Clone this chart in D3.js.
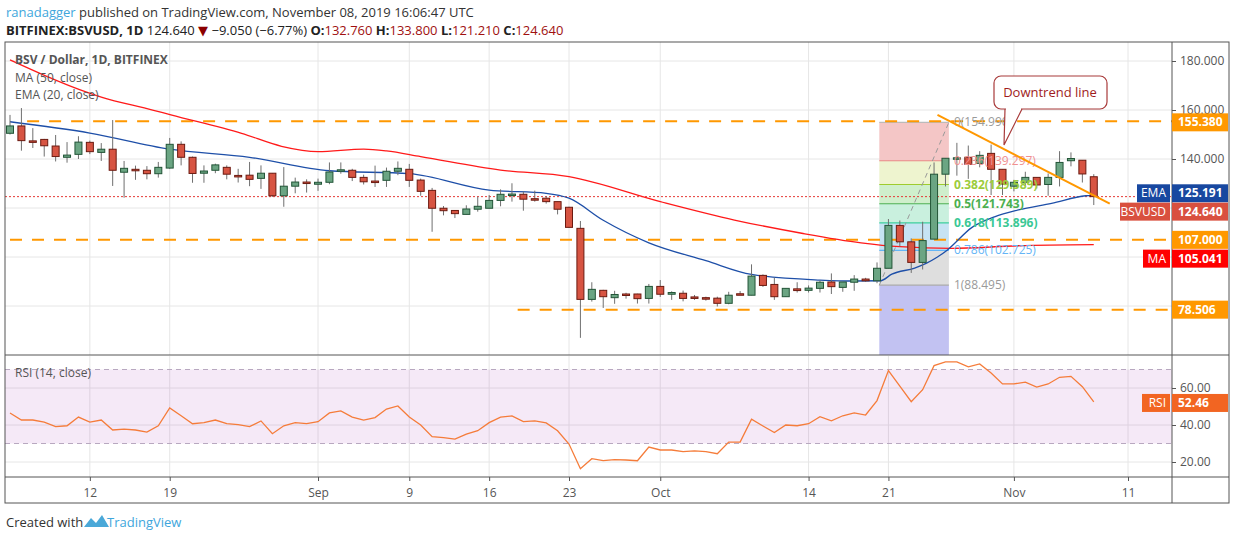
<!DOCTYPE html>
<html>
<head>
<meta charset="utf-8">
<script src="https://cdn.jsdelivr.net/npm/d3@7"></script>
<style>
  body { margin: 0; background: #fff; font-family: "Open Sans", "DejaVu Sans", sans-serif; }
  svg text { font-family: "Open Sans", "DejaVu Sans", sans-serif; }
</style>
</head>
<body>
<svg id="chart" width="1234" height="540"></svg>
<script>
// daily candles from Aug 05 2019 to Nov 08 2019
const startDate = `2019-08-05`;
const opens  = [150.5,153.5,147.4,148,145.3,140.7,141.9,146.8,142.7,144,134.6,135.8,135.4,134,136.3,146,140.7,134.2,135.4,136.6,133.3,133.4,132.1,134.2,125,128.9,130.6,129.7,130.5,135,135.4,132.5,131,131.3,135,135.8,131.4,127.2,119.9,119,117.4,119.5,119.9,123.1,125.5,125.6,123.8,124,122.6,120.3,111.7,82.7,86.4,83.4,84.9,84.9,83.1,88,84.8,85.2,83.7,83.4,83.2,81.1,85,84.4,92.5,88.8,83.8,87,86.4,87.2,89.8,87.6,89.7,91,90.3,95.4,112.9,106.2,97.8,107.3,133.8,140,140.7,138.2,142.3,135.8,128.9,130.5,132.5,129.6,132.5,139.3,139.5,132.76];
const highs  = [158,160.8,152.6,148.2,149.8,146.9,149.3,147.5,146.5,155.9,139.2,137.3,137.1,138.8,148.6,147.2,141,137.4,138.1,137.4,136,138.8,137.4,134.2,136.7,132.4,131.7,132,138.6,138.6,136,133.6,137.3,136.5,139,138,132,128.2,120.8,119.1,121.1,124.6,125.3,127.6,130.1,126.7,127.1,124.8,122.6,120.5,114.7,89.7,86.6,86.2,85.4,85,89,90.6,86,86.3,84.5,83.8,83.8,85.8,86.1,97,92.9,91.6,87.2,89.7,88.4,90.4,93.3,89.8,92.6,91.5,97.8,115.5,114.9,107.6,114.4,138.6,140.3,146.6,145.5,143.2,145.9,135.8,131.5,134.8,132.5,134.1,143.2,142.7,139.5,133.8];
const lows   = [150,143.4,144.5,141,139,138.5,140,142,139.2,129,124.2,131.5,131.7,132.4,136,137.4,130.3,130.3,134.2,131.7,130.4,128.9,127.8,124.6,120.5,126,126.3,127,129.7,134,131,129.6,128.6,128.6,133.4,128.6,125,110.3,117,115.9,117.4,118.5,119.9,120.7,122.6,118.9,122.6,121.8,117.4,112,67,81.8,79.2,80.9,83,81,81,83.7,82.5,81.9,82.5,82.2,79.8,80.7,84.5,84.4,87.8,82.5,83.8,85.5,85.5,85.5,84.9,85.8,86.2,89.8,89.3,95.4,104.2,93.5,94.9,107.3,128.8,133.2,131.9,136.6,125.3,125.3,126.8,129,128,125,128.8,137,130.4,121.21];
const closes = [153.5,147.5,147,145.4,141,141.6,146.9,143,144,135.4,136.2,135.4,134,136.6,146,140.7,134.1,135.1,137.6,133.8,132.9,131.7,134.2,125,128.9,130.6,130,130.5,134.7,135.6,132.5,130.7,130.8,135,136.2,131.3,126.8,119.9,118.9,117.7,119.6,120.7,123.1,125.6,125.7,123.6,123.5,122.6,119.5,112.1,82.7,86.8,83.8,84.7,84.5,83,88,84.8,85.5,83.1,83.6,82.8,81.1,84.4,84.5,92.2,88.4,83.8,87.2,86.3,87.3,89.7,87.9,89.8,91,90.3,95.4,112.9,106.2,97.8,106.7,133.8,140.3,140.5,137.8,141.5,135.8,129.8,130.5,132.5,129.4,132.5,138.6,140.2,133.9,124.64];

// moving averages (day index from Aug 05, value)
const maDays = [0,8,12.5,14.1,20.3,23.8,27,31,33,36,43,49,57,63.5,69.4,74.6,78,82.5,88.4,95];
const maVals = [180.5,165.3,160,158,150.5,145.2,143,144,143.3,141,135.5,132.8,122.6,115.1,109.7,105.8,104.2,103.5,104.6,105.04];
const emaDays = [0,7,14,21,28,35,42,47,49,52,56,61,65,71,74,76.3,77.3,79.3,80.3,81.3,82.2,84.3,86.3,88.4,91.3,94.3,95];
const emaVals = [155.2,150.6,144,140.7,135.2,134,127.3,126,124,115,105.8,98.5,92.9,90.6,90.2,90.3,93,95.5,97.4,100,103,112,116.4,119.2,121.9,125,125.191];

// RSI (14) one value per day
const rsiVals = [46.5,42.7,42.7,41.6,39.1,39.6,44.3,41.6,42.7,37.3,37.8,37.3,36.2,39.6,49.2,45,40.7,41.3,42.7,40.7,40.2,39.1,42.2,35.3,39.6,41.3,40.7,41.8,46.5,47.6,44.3,42.7,44,48.6,50.3,44.3,40,33.7,33.2,32.4,35.1,36.9,41.3,44.3,44.9,41.8,42.2,41.1,36.9,29.7,16.4,21.8,20.7,21.3,21.1,20.7,28.1,26.5,26.5,25.6,26,25.6,24.5,30.8,30.8,43.2,39.5,35.9,40,39.6,40.7,44.5,42.3,45,46.5,45.4,53.2,69.4,61,52.6,59.1,72.1,74.1,74.1,71.4,73,68.1,62.2,62.2,63.2,60.5,62.2,65.8,66.3,60.7,52.46];

const tickDates = [`2019-08-12`,`2019-08-19`,`2019-09-01`,`2019-09-09`,`2019-09-16`,`2019-09-23`,`2019-10-01`,`2019-10-14`,`2019-10-21`,`2019-11-01`,`2019-11-11`];
const tickLabels = [`12`,`19`,`Sep`,`9`,`16`,`23`,`Oct`,`14`,`21`,`Nov`,`11`];
const priceTicks = [80,100,120,140,160,180];
const priceLabels = [140,160,180];
const rsiTicks = [20,40,60];

const hLevels = [155.38, 107.0, 78.506];
const hLevelStart = [1.5, 0, 44.5];
const fibRatios = [0,0.236,0.382,0.5,0.618,0.786,1];
const fibPrices = [154.99,139.297,129.589,121.743,113.896,102.725,88.495];
const fibFills = [`#f4c6c6`,`#eef4cf`,`#cfefcc`,`#c9f0de`,`#c6e3f3`,`#dedede`];
const fibLines = [`#bbbbbb`,`#e98585`,`#9fcc2e`,`#4caf50`,`#3ccf9e`,`#64b5f6`,`#aaaaaa`];
const fibText  = [`#9a9a9a`,`#f09090`,`#9ccc3c`,`#4caf50`,`#3bc895`,`#64b5f6`,`#9a9a9a`];
const trendDays = [81.3, 96.4];
const trendVals = [158, 121.8];

const svg = d3.select(`#chart`);
const parse = d3.utcParse(`%Y-%m-%d`);
const d0 = parse(startDate);
const dayDate = i => d0.getTime() + i * 864e5;

const left = 5, right = 1172, axisRight = 1229;
const mainTop = 42, mainBottom = 355, rsiTop = 356, rsiBottom = 477, timeBottom = 503;

const x = d3.scaleUtc().domain([d0, parse(`2019-11-11`)]).range([10, 1128]);
const xd = i => x(new Date(dayDate(i)));
const y = d3.scaleLinear().domain([60, 187.76]).range([mainBottom, mainTop]);
const yr = d3.scaleLinear().domain([11.9, 77.3]).range([rsiBottom, rsiTop]);

// header
const head = svg.append(`text`).attr(`x`, 6).attr(`y`, 17).attr(`font-size`, 13).attr(`fill`, `#333`);
head.append(`tspan`).attr(`fill`, `#3ea6dc`).text(`ranadagger`);
head.append(`tspan`).text(` published on TradingView.com, November 08, 2019 16:06:47 UTC`);
const h2 = svg.append(`text`).attr(`x`, 6).attr(`y`, 35).attr(`font-size`, 13).attr(`fill`, `#222`);
h2.append(`tspan`).attr(`font-weight`, `bold`).text(`BITFINEX:BSVUSD, 1D`);
h2.append(`tspan`).text(`  124.640 `);
h2.append(`tspan`).attr(`fill`, `#8b0000`).text(`▼`);
h2.append(`tspan`).text(` −9.050 (−6.77%) `);
[[`O:`,`132.760`],[`H:`,`133.800`],[`L:`,`121.210`],[`C:`,`124.640`]].forEach(([k, v]) => {
  h2.append(`tspan`).attr(`font-weight`, `bold`).text(k);
  h2.append(`tspan`).attr(`fill`, `#a01010`).text(v + ` `);
});

// grid
const grid = svg.append(`g`).attr(`stroke`, `#e6e6e6`);
tickDates.forEach(d => {
  const gx = x(parse(d));
  grid.append(`line`).attr(`x1`, gx).attr(`x2`, gx).attr(`y1`, mainTop).attr(`y2`, mainBottom);
  grid.append(`line`).attr(`x1`, gx).attr(`x2`, gx).attr(`y1`, rsiTop).attr(`y2`, rsiBottom);
});
priceTicks.forEach(p => grid.append(`line`).attr(`x1`, left).attr(`x2`, right).attr(`y1`, y(p)).attr(`y2`, y(p)));
rsiTicks.forEach(r => grid.append(`line`).attr(`x1`, left).attr(`x2`, right).attr(`y1`, yr(r)).attr(`y2`, yr(r)));

// fib retracement
const fibX0 = xd(76.2), fibX1 = xd(82.3);
const fib = svg.append(`g`);
for (let i = 0; i < 6; i++) {
  fib.append(`rect`).attr(`x`, fibX0).attr(`width`, fibX1 - fibX0)
    .attr(`y`, y(fibPrices[i])).attr(`height`, y(fibPrices[i + 1]) - y(fibPrices[i]))
    .attr(`fill`, fibFills[i]);
}
fib.append(`rect`).attr(`x`, fibX0).attr(`width`, fibX1 - fibX0)
  .attr(`y`, y(fibPrices[6])).attr(`height`, mainBottom - y(fibPrices[6])).attr(`fill`, `#c2c2f2`);
fibPrices.forEach((p, i) => {
  fib.append(`line`).attr(`x1`, fibX0).attr(`x2`, fibX1).attr(`y1`, y(p)).attr(`y2`, y(p))
    .attr(`stroke`, fibLines[i]).attr(`stroke-width`, 1.2);
});
fib.append(`line`).attr(`x1`, fibX0).attr(`y1`, y(fibPrices[6])).attr(`x2`, fibX1).attr(`y2`, y(fibPrices[0]))
  .attr(`stroke`, `#999`).attr(`stroke-dasharray`, `5,4`);

// horizontal levels
hLevels.forEach((p, i) => {
  svg.append(`line`).attr(`x1`, xd(hLevelStart[i])).attr(`x2`, right).attr(`y1`, y(p)).attr(`y2`, y(p))
    .attr(`stroke`, `#ff9800`).attr(`stroke-width`, 2).attr(`stroke-dasharray`, `12,10`);
});
svg.append(`line`).attr(`x1`, left).attr(`x2`, right).attr(`y1`, y(124.64)).attr(`y2`, y(124.64))
  .attr(`stroke`, `#e53935`).attr(`stroke-dasharray`, `2,2`);

// MA / EMA
const lineGen = d3.line().curve(d3.curveMonotoneX);
svg.append(`path`).attr(`d`, lineGen(maDays.map((d, i) => [xd(d), y(maVals[i])])))
  .attr(`fill`, `none`).attr(`stroke`, `#ff1a1a`).attr(`stroke-width`, 1.3);
svg.append(`path`).attr(`d`, lineGen(emaDays.map((d, i) => [xd(d), y(emaVals[i])])))
  .attr(`fill`, `none`).attr(`stroke`, `#1e4fa8`).attr(`stroke-width`, 1.3);

// candles
const candles = svg.append(`g`);
closes.forEach((c, i) => {
  const o = opens[i], up = c >= o, cx = xd(i);
  candles.append(`line`).attr(`x1`, cx).attr(`x2`, cx).attr(`y1`, y(highs[i])).attr(`y2`, y(lows[i]))
    .attr(`stroke`, `#6f6f6f`);
  const top = y(Math.max(o, c)), h = Math.max(1.5, Math.abs(y(o) - y(c)));
  candles.append(`rect`).attr(`x`, cx - 3.5).attr(`width`, 7).attr(`y`, top).attr(`height`, h)
    .attr(`fill`, up ? `#6ba583` : `#d75442`).attr(`stroke`, up ? `#225437` : `#6b1a10`);
});

// fib labels
fibPrices.forEach((p, i) => {
  svg.append(`text`).attr(`x`, fibX1 + 5).attr(`y`, y(p) + 4).attr(`font-size`, 12)
    .attr(`font-weight`, i >= 2 && i <= 4 ? `bold` : `normal`)
    .attr(`fill`, fibText[i]).text(`${fibRatios[i]}(${p.toFixed(3)})`);
});

// downtrend line
svg.append(`line`).attr(`x1`, xd(trendDays[0])).attr(`y1`, y(trendVals[0]))
  .attr(`x2`, xd(trendDays[1])).attr(`y2`, y(trendVals[1]))
  .attr(`stroke`, `#ff9800`).attr(`stroke-width`, 2);

// callout
svg.append(`path`).attr(`d`, `M1005,109 L1004,145 L1022,109`).attr(`fill`, `#fff`).attr(`stroke`, `#a83a3a`).attr(`stroke-width`, 1.2);
svg.append(`rect`).attr(`x`, 994).attr(`y`, 76).attr(`width`, 113).attr(`height`, 33).attr(`rx`, 7)
  .attr(`fill`, `#fff`).attr(`stroke`, `#a83a3a`).attr(`stroke-width`, 1.2);
svg.append(`line`).attr(`x1`, 1006).attr(`x2`, 1021).attr(`y1`, 109).attr(`y2`, 109).attr(`stroke`, `#fff`).attr(`stroke-width`, 2);
svg.append(`text`).attr(`x`, 1050).attr(`y`, 97).attr(`text-anchor`, `middle`).attr(`font-size`, 13)
  .attr(`fill`, `#a01c1c`).text(`Downtrend line`);

// RSI pane
svg.append(`rect`).attr(`x`, left).attr(`width`, right - left).attr(`y`, yr(70)).attr(`height`, yr(30) - yr(70))
  .attr(`fill`, `#9c27b0`).attr(`opacity`, 0.1);
[70, 30].forEach(r => svg.append(`line`).attr(`x1`, left).attr(`x2`, right).attr(`y1`, yr(r)).attr(`y2`, yr(r))
  .attr(`stroke`, `#b8a8c0`).attr(`stroke-dasharray`, `5,4`));
svg.append(`path`).attr(`d`, d3.line()(rsiVals.map((r, i) => [xd(i), yr(r)])))
  .attr(`fill`, `none`).attr(`stroke`, `#f57c3a`).attr(`stroke-width`, 1.3);

// legends
const leg = svg.append(`g`).attr(`font-size`, 12).attr(`fill`, `#555`);
leg.append(`text`).attr(`x`, 15).attr(`y`, 64).attr(`font-weight`, `bold`).attr(`fill`, `#555`).text(`BSV / Dollar, 1D, BITFINEX`);
leg.append(`text`).attr(`x`, 15).attr(`y`, 82).text(`MA (50, close)`);
leg.append(`text`).attr(`x`, 15).attr(`y`, 99).text(`EMA (20, close)`);
leg.append(`text`).attr(`x`, 15).attr(`y`, 377).text(`RSI (14, close)`);

// frames
const frame = svg.append(`g`).attr(`stroke`, `#555`).attr(`fill`, `none`);
frame.append(`rect`).attr(`x`, left).attr(`y`, mainTop).attr(`width`, axisRight - left).attr(`height`, timeBottom - mainTop);
frame.append(`line`).attr(`x1`, right).attr(`x2`, right).attr(`y1`, mainTop).attr(`y2`, timeBottom);
frame.append(`line`).attr(`x1`, left).attr(`x2`, axisRight).attr(`y1`, mainBottom).attr(`y2`, mainBottom);
frame.append(`line`).attr(`x1`, left).attr(`x2`, axisRight).attr(`y1`, rsiBottom).attr(`y2`, rsiBottom);

// axes
const yAxis = d3.axisRight(y).tickValues(priceTicks).tickSize(4)
  .tickFormat(d => priceLabels.includes(d) ? d3.format(`.3f`)(d) : ``);
svg.append(`g`).attr(`transform`, `translate(${right},0)`).call(yAxis)
  .call(g => g.select(`.domain`).remove())
  .call(g => g.selectAll(`text`).attr(`font-size`, 12).attr(`fill`, `#555`).attr(`x`, 8))
  .call(g => g.selectAll(`line`).attr(`stroke`, `#555`));
const rAxis = d3.axisRight(yr).tickValues(rsiTicks).tickSize(4).tickFormat(d3.format(`.2f`));
svg.append(`g`).attr(`transform`, `translate(${right},0)`).call(rAxis)
  .call(g => g.select(`.domain`).remove())
  .call(g => g.selectAll(`text`).attr(`font-size`, 12).attr(`fill`, `#555`).attr(`x`, 8))
  .call(g => g.selectAll(`line`).attr(`stroke`, `#555`));
const xAxis = d3.axisBottom(x).tickValues(tickDates.map(parse)).tickSize(4)
  .tickFormat((d, i) => tickLabels[i]);
svg.append(`g`).attr(`transform`, `translate(0,${rsiBottom})`).call(xAxis)
  .call(g => g.select(`.domain`).remove())
  .call(g => g.selectAll(`text`).attr(`font-size`, 12).attr(`fill`, `#555`).attr(`dy`, `1.1em`))
  .call(g => g.selectAll(`line`).attr(`stroke`, `#555`));

// axis tags
const tag = (val, yy, bg, label, labelW) => {
  const g = svg.append(`g`);
  if (label) {
    g.append(`rect`).attr(`x`, right - labelW - 2).attr(`y`, yy - 9).attr(`width`, labelW).attr(`height`, 18).attr(`fill`, bg);
    g.append(`text`).attr(`x`, right - 6).attr(`y`, yy + 4).attr(`text-anchor`, `end`).attr(`font-size`, 12)
      .attr(`fill`, `#fff`).text(label);
  }
  g.append(`rect`).attr(`x`, right).attr(`y`, yy - 9).attr(`width`, 56).attr(`height`, 18).attr(`fill`, bg);
  g.append(`text`).attr(`x`, right + 6).attr(`y`, yy + 4).attr(`font-size`, 12).attr(`font-weight`, `bold`)
    .attr(`fill`, `#fff`).text(val);
};
tag(`155.380`, y(155.38) + 1, `#ff9800`);
tag(`125.191`, y(125.191) - 2, `#1848a0`, `EMA`, 33);
tag(`124.640`, y(124.64) + 15, `#d9503f`, `BSVUSD`, 50);
tag(`107.000`, y(107), `#ff9800`);
tag(`105.041`, y(105.041) + 14, `#ff0000`, `MA`, 27);
tag(`78.506`, y(78.506), `#ff9800`);
tag(`52.46`, yr(52.46) + 1, `#f26522`, `RSI`, 28);

// footer
svg.append(`text`).attr(`x`, 6).attr(`y`, 527).attr(`font-size`, 13).attr(`fill`, `#333`).text(`Created with `);
svg.append(`path`).attr(`d`, `M84,527 l7,-9 l5,5 l6,-8 l7,12 z`).attr(`fill`, `#4aa8d8`);
svg.append(`text`).attr(`x`, 107).attr(`y`, 527).attr(`font-size`, 13).attr(`fill`, `#3ea6dc`).text(`TradingView`);
</script>
</body>
</html>
